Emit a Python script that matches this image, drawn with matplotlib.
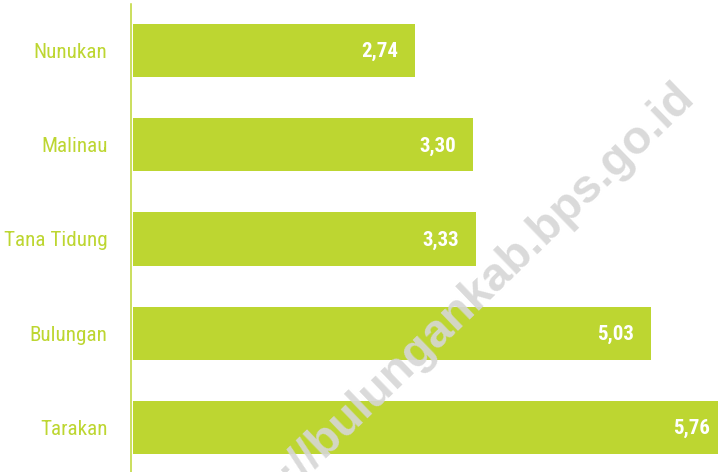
import matplotlib
matplotlib.use("Agg")
import matplotlib.pyplot as plt

regions = ["Nunukan", "Malinau", "Tana Tidung", "Bulungan", "Tarakan"]
values = [2.74, 3.30, 3.33, 5.03, 5.76]
value_labels = ["2,74", "3,30", "3,33", "5,03", "5,76"]

GREEN = "#bdd631"
NARROW = ["DejaVu Sans Condensed", "Roboto Condensed", "Liberation Sans Narrow", "Roboto"]

fig = plt.figure(figsize=(7.18, 4.72), dpi=100)
ax = fig.add_axes([131 / 718, 0, 1 - 131 / 718, 1 - 4 / 472])

pos = list(range(len(regions)))
ax.barh(pos, values, height=0.565, color=GREEN, left=0.015)

for y, v, lab in zip(pos, values, value_labels):
    ax.annotate(lab, (v + 0.015, y), xytext=(-12, -1), textcoords="offset points",
                ha="right", va="center", color="white", fontsize=15,
                fontweight="bold", family=NARROW, annotation_clip=False)

ax.set_xlim(0, 5.694)
ax.set_ylim(4.472, -0.493)
ax.set_yticks(pos)
ax.set_yticklabels(regions, color=GREEN, fontsize=15.2, family=NARROW)
ax.tick_params(axis="y", length=0, pad=17)
ax.set_xticks([])

for side in ["top", "right", "bottom"]:
    ax.spines[side].set_visible(False)
ax.spines["left"].set_color(GREEN)
ax.spines["left"].set_linewidth(1.1)

# site watermark across the bars
fig.text(445 / 718, 1 - 324 / 472, "https://bulungankab.bps.go.id",
         rotation=44, rotation_mode="anchor", ha="center", va="center",
         fontsize=34, fontweight="bold", family=["Liberation Sans", "DejaVu Sans"],
         color="#d6d6d6", alpha=0.9, zorder=10)

fig.savefig("out.png", dpi=100)
